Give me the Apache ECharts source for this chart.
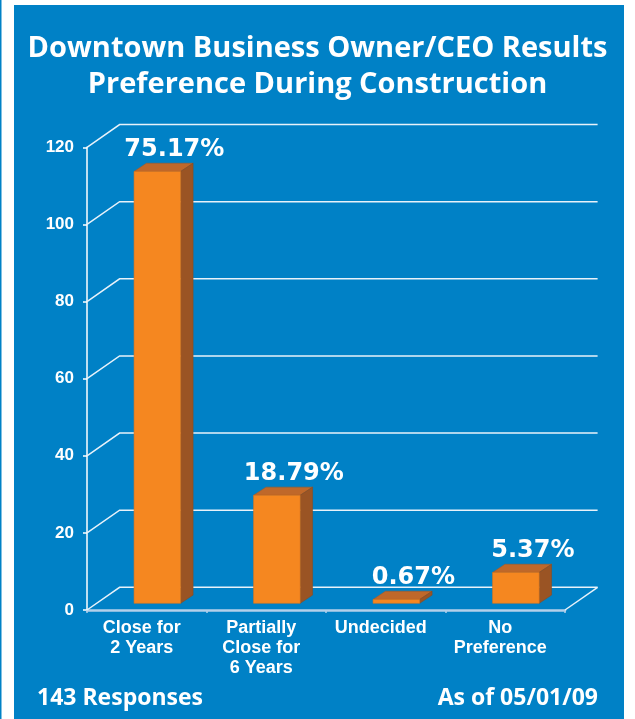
<!DOCTYPE html>
<html>
<head>
<meta charset="utf-8">
<script src="https://cdn.jsdelivr.net/npm/echarts@6/dist/echarts.min.js"></script>
<style>
html,body{margin:0;padding:0;background:#ffffff;}
#chart{width:635px;height:719px;}
</style>
</head>
<body>
<div id="chart"></div>
<script>
const categories = ['Close for\n2 Years', 'Partially\nClose for\n6 Years', 'Undecided', 'No\nPreference'];
const counts = [112, 28, 1, 8];
const percentLabels = ['75.17%', '18.79%', '0.67%', '5.37%'];
const yTicks = [0, 20, 40, 60, 80, 100, 120];
const titleLines = ['Downtown Business Owner/CEO Results', 'Preference During Construction'];
const footLeft = '143 Responses';
const footRight = 'As of 05/01/09';

const BLUE = '#0081c6';
const DEPTH_X = 32.6, DEPTH_Y = -22.7;

const chart = echarts.init(document.getElementById('chart'), null, {renderer: 'canvas'});

function gridRender(params, api) {
  const cs = params.coordSys;
  const v = api.value(0);
  const y = api.coord([0, v])[1];
  const x0 = cs.x, x1 = cs.x + cs.width;
  const lineStyle = {stroke: '#e8f2fa', lineWidth: 1.5, fill: null};
  const children = [{
    type: 'polyline',
    shape: {points: [[x0, y], [x0 + DEPTH_X, y + DEPTH_Y], [x1 + DEPTH_X, y + DEPTH_Y]]},
    style: lineStyle
  }];
  if (v === 0) {
    children.push({
      type: 'line',
      shape: {x1: x1, y1: y, x2: x1 + DEPTH_X, y2: y + DEPTH_Y},
      style: lineStyle
    });
  }
  return {type: 'group', children: children};
}

function barRender(params, api) {
  const i = api.value(0);
  const v = api.value(1);
  const top = api.coord([i, v]);
  const bot = api.coord([i, 0]);
  const band = api.size([1, 0])[0];
  const w = band * 0.39;
  const offX = 10.6, offY = -6.7;
  const dx = 12.4, dy = -8.2;
  const cx = top[0] + offX;
  const L = cx - w / 2, R = cx + w / 2;
  const T = top[1] + offY, B = bot[1] + offY;
  return {
    type: 'group',
    children: [
      {type: 'polygon', shape: {points: [[L, T], [R, T], [R + dx, T + dy], [L + dx, T + dy]]},
        style: {fill: '#bf682a', stroke: '#a85a25', lineWidth: 0.6}},
      {type: 'polygon', shape: {points: [[R, T], [R + dx, T + dy], [R + dx, B + dy], [R, B]]},
        style: {fill: '#9a5424', stroke: '#8a4b20', lineWidth: 0.6}},
      {type: 'rect', shape: {x: L, y: T, width: R - L, height: B - T},
        style: {fill: '#f58720', stroke: '#d8741c', lineWidth: 0.6}},
      {type: 'text', x: cx + 17, y: T - 22,
        style: {text: percentLabels[params.dataIndex], fill: '#ffffff',
          font: 'bold 24px "DejaVu Sans"', textAlign: 'center', textVerticalAlign: 'middle'}}
    ]
  };
}

const option = {
  backgroundColor: '#ffffff',
  animation: false,
  graphic: [
    {type: 'rect', z: -10, shape: {x: 0, y: 0, width: 1.5, height: 719}, style: {fill: BLUE}},
    {type: 'rect', z: -10, shape: {x: 14, y: 5, width: 610, height: 714}, style: {fill: BLUE}},
    {type: 'text', left: 37, top: 687, style: {text: footLeft, fill: '#ffffff', font: 'bold 23px "Open Sans"'}},
    {type: 'text', right: 37, top: 687, style: {text: footRight, fill: '#ffffff', font: 'bold 23px "Open Sans"'}}
  ],
  title: {
    text: titleLines.join('\n'),
    left: 'center',
    top: 26,
    textStyle: {color: '#ffffff', fontFamily: 'Open Sans', fontWeight: 'bold', fontSize: 29, lineHeight: 36}
  },
  grid: {left: 87, right: 70, top: 147.3, bottom: 109, containLabel: false},
  xAxis: {
    type: 'category',
    data: categories,
    axisLine: {lineStyle: {color: '#b4d0ea', width: 2.5}},
    axisTick: {show: true, length: 3, lineStyle: {color: '#b4d0ea', width: 1.5}},
    axisLabel: {interval: 0, hideOverlap: false, color: '#ffffff', fontFamily: 'Liberation Sans', fontWeight: 'bold', fontSize: 18, lineHeight: 20, margin: 8, padding: [0, 10, 0, 0]},
    splitLine: {show: false}
  },
  yAxis: {
    type: 'value',
    min: 0, max: 120, interval: 20,
    axisLine: {show: true, lineStyle: {color: '#ffffff', width: 1.5}},
    axisTick: {show: true, length: 4, lineStyle: {color: '#ffffff', width: 1.5}},
    axisLabel: {color: '#ffffff', fontFamily: 'Liberation Sans', fontWeight: 'bold', fontSize: 17, margin: 13},
    splitLine: {show: false}
  },
  series: [
    {type: 'custom', renderItem: gridRender, data: yTicks.map(v => [v]), z: 1, silent: true,
      encode: {y: 0}},
    {type: 'custom', renderItem: barRender, data: counts.map((c, i) => [i, c]), z: 5,
      encode: {x: 0, y: 1}}
  ]
};
chart.setOption(option);
</script>
</body>
</html>
